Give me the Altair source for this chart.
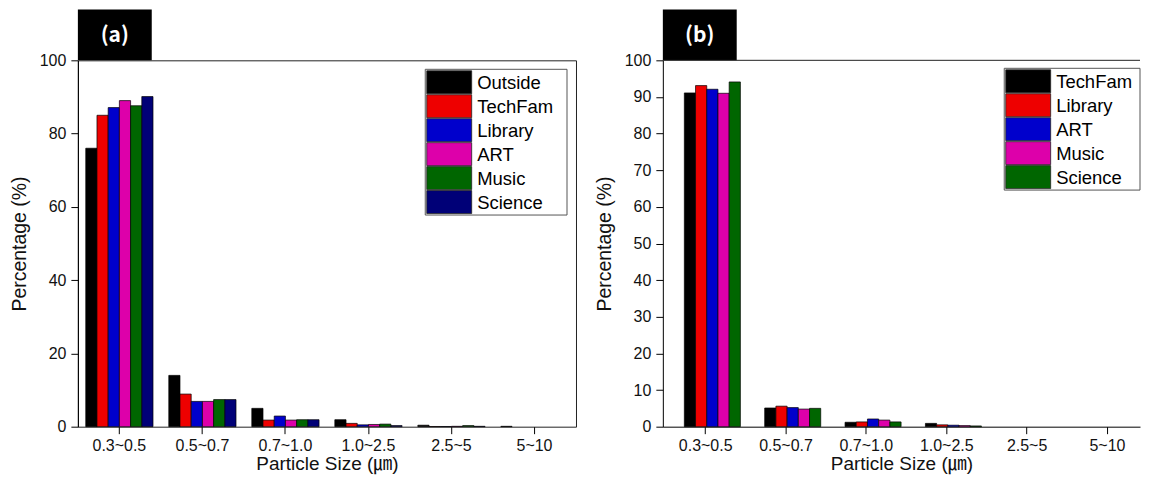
import altair as alt
import pandas as pd

sizes = ["0.3~0.5", "0.5~0.7", "0.7~1.0", "1.0~2.5", "2.5~5", "5~10"]

# Panel (a)
sites_a = ["Outside", "TechFam", "Library", "ART", "Music", "Science"]
colors_a = ["#000000", "#EE0000", "#0000CC", "#DD00AA", "#006600", "#000077"]
a_outside = [76.0, 14.0, 5.0, 1.9, 0.4, 0.1]
a_techfam = [85.0, 8.9, 1.8, 0.9, 0.05, 0.0]
a_library = [87.1, 6.9, 2.9, 0.5, 0.05, 0.0]
a_art = [89.0, 6.9, 1.8, 0.6, 0.1, 0.0]
a_music = [87.6, 7.4, 1.9, 0.7, 0.3, 0.0]
a_science = [90.1, 7.4, 1.9, 0.3, 0.1, 0.0]
yticks_a = [0, 20, 40, 60, 80, 100]

# Panel (b)
sites_b = ["TechFam", "Library", "ART", "Music", "Science"]
colors_b = ["#000000", "#EE0000", "#0000CC", "#DD00AA", "#006600"]
b_techfam = [91.1, 5.1, 1.2, 0.9, 0.0, 0.0]
b_library = [93.1, 5.6, 1.3, 0.5, 0.0, 0.0]
b_art = [92.1, 5.2, 2.1, 0.4, 0.0, 0.0]
b_music = [91.0, 4.8, 1.8, 0.3, 0.0, 0.0]
b_science = [94.1, 5.0, 1.3, 0.2, 0.0, 0.0]
yticks_b = [0, 10, 20, 30, 40, 50, 60, 70, 80, 90, 100]

panel_labels = ["(a)", "(b)"]
x_title = "Particle Size (㎛)"
y_title = "Percentage (%)"

SANS = "Liberation Sans"
TITLE_FONT = "Liberation Sans, Noto Sans CJK KR"
KR = "Noto Sans CJK KR"
ROW = 24  # legend row pitch (px)


def long_df(sites, series):
    rows = []
    for s, vals in zip(sites, series):
        for sz, v in zip(sizes, vals):
            if v > 0:
                rows.append({"size": sz, "site": s, "value": v})
    return pd.DataFrame(rows)


def panel(df, sites, colors, label, yticks, lx, ly, lw, width, pad_outer, align, boxed):
    color_scale = alt.Scale(domain=sites, range=colors)
    bars = alt.Chart(df).mark_bar(stroke="black", strokeWidth=0.7).encode(
        x=alt.X("size:N", sort=sizes,
                scale=alt.Scale(domain=sizes, paddingInner=0.19, paddingOuter=pad_outer, align=align),
                axis=alt.Axis(title=x_title, labelAngle=0, domain=not boxed, domainColor="black",
                              tickSize=7, tickColor="black", labelFont=SANS,
                              labelFontSize=16, labelColor="#111", labelPadding=4,
                              titleFont=TITLE_FONT, titleFontSize=19, titleFontWeight="normal",
                              titleColor="#111", titlePadding=1)),
        xOffset=alt.XOffset("site:N", sort=sites,
                            scale=alt.Scale(domain=sites, paddingInner=0, paddingOuter=0)),
        y=alt.Y("value:Q", scale=alt.Scale(domain=[0, 100], nice=False),
                axis=alt.Axis(title=y_title, values=yticks, tickSize=7, tickColor="black",
                              domainColor="black", labelFont=SANS, labelFontSize=16,
                              labelColor="#111", labelPadding=5, grid=False,
                              titleFont=TITLE_FONT, titleFontSize=19.5, titleFontWeight="normal",
                              titleColor="#111", titlePadding=10)),
        color=alt.Color("site:N", sort=sites, scale=color_scale, legend=None),
    )

    # panel tag "(a)" / "(b)"
    lab_df = pd.DataFrame({"label": [label]})
    box = alt.Chart(lab_df).mark_rect(color="black").encode(
        x=alt.value(0), x2=alt.value(74), y=alt.value(-51), y2=alt.value(0)
    )
    txt = alt.Chart(lab_df).mark_text(color="white", font=KR, fontWeight="bold",
                                      fontSize=21, align="center", baseline="middle").encode(
        x=alt.value(37), y=alt.value(-24), text="label:N"
    )

    # legend drawn from the site list through a band scale
    n = len(sites)
    leg_df = pd.DataFrame({"site": sites})
    leg_y = alt.Y("site:N", sort=sites, axis=None,
                  scale=alt.Scale(domain=sites, range=[ly + 1, ly + 1 + ROW * n],
                                  paddingInner=0.04, paddingOuter=0.02))
    frame = alt.Chart(lab_df).mark_rect(fill="white", stroke="#555", strokeWidth=1).encode(
        x=alt.value(lx), x2=alt.value(lx + lw), y=alt.value(ly), y2=alt.value(ly + ROW * n + 2)
    )
    swatch = alt.Chart(leg_df).mark_rect(stroke="#222", strokeWidth=0.8).encode(
        x=alt.value(lx + 1.5), x2=alt.value(lx + 46.5), y=leg_y,
        color=alt.Color("site:N", sort=sites, scale=color_scale, legend=None),
    )
    names = alt.Chart(leg_df).mark_text(font=SANS, fontSize=18.5, color="black",
                                        align="left", baseline="middle", dy=1).encode(
        x=alt.value(lx + 52), y=leg_y, text="site:N"
    )

    layers = [bars, box, txt, frame, swatch, names]
    if not boxed:
        top_line = alt.Chart(lab_df).mark_rule(color="#222", strokeWidth=1).encode(
            x=alt.value(0), x2=alt.value(width), y=alt.value(0)
        )
        layers.append(top_line)

    ch = alt.layer(*layers).resolve_scale(y="independent").properties(width=width, height=367)
    if not boxed:
        ch = ch.properties(view=alt.ViewBackground(stroke="transparent"))
    return ch


df_a = long_df(sites_a, [a_outside, a_techfam, a_library, a_art, a_music, a_science])
df_b = long_df(sites_b, [b_techfam, b_library, b_art, b_music, b_science])

pa = panel(df_a, sites_a, colors_a, panel_labels[0], yticks_a, 348, 9, 142, 499, 0.095, 0.5, True)
pb = panel(df_b, sites_b, colors_b, panel_labels[1], yticks_b, 342, 8, 136, 478, 0.064, 1, False)

chart = alt.hconcat(pa, pb, spacing=16).resolve_scale(color="independent").properties(
    padding={"left": 0, "top": 0, "right": 0, "bottom": 0}
).configure_view(stroke="#222", strokeWidth=1)

chart.save("out.html", embed_options={"renderer": "svg", "actions": False})
